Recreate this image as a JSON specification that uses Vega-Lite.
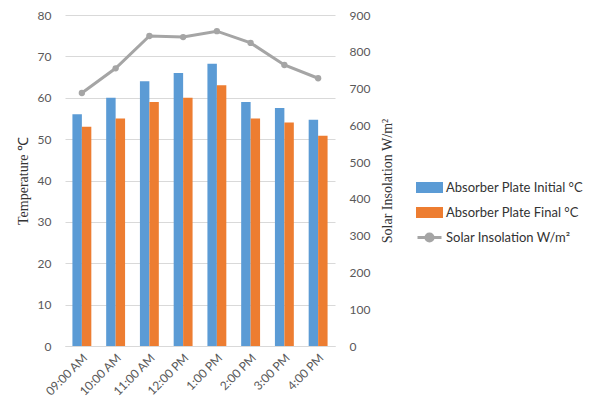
{
  "$schema": "https://vega.github.io/schema/vega-lite/v6.json",
  "width": 270,
  "height": 331,
  "autosize": {"type": "none"},
  "padding": {"left": 65, "top": 15, "right": 259, "bottom": 67},
  "background": "white",
  "config": {
    "view": {"stroke": null},
    "axis": {"labelFont": "Lato", "labelFontSize": 12, "labelColor": "#595959", "titleFont": "Liberation Serif", "titleFontSize": 14, "titleFontWeight": "normal", "titleColor": "#333333", "ticks": false, "domain": false}
  },
  "datasets": {
    "temps": [
      {"time": "09:00 AM", "series": "Absorber Plate Initial °C", "temp": 56},
      {"time": "09:00 AM", "series": "Absorber Plate Final °C", "temp": 53},
      {"time": "10:00 AM", "series": "Absorber Plate Initial °C", "temp": 60},
      {"time": "10:00 AM", "series": "Absorber Plate Final °C", "temp": 55},
      {"time": "11:00 AM", "series": "Absorber Plate Initial °C", "temp": 64},
      {"time": "11:00 AM", "series": "Absorber Plate Final °C", "temp": 59},
      {"time": "12:00 PM", "series": "Absorber Plate Initial °C", "temp": 66},
      {"time": "12:00 PM", "series": "Absorber Plate Final °C", "temp": 60},
      {"time": "1:00 PM", "series": "Absorber Plate Initial °C", "temp": 68.2},
      {"time": "1:00 PM", "series": "Absorber Plate Final °C", "temp": 63},
      {"time": "2:00 PM", "series": "Absorber Plate Initial °C", "temp": 59},
      {"time": "2:00 PM", "series": "Absorber Plate Final °C", "temp": 55},
      {"time": "3:00 PM", "series": "Absorber Plate Initial °C", "temp": 57.5},
      {"time": "3:00 PM", "series": "Absorber Plate Final °C", "temp": 54},
      {"time": "4:00 PM", "series": "Absorber Plate Initial °C", "temp": 54.7},
      {"time": "4:00 PM", "series": "Absorber Plate Final °C", "temp": 50.8}
    ],
    "solar": [
      {"time": "09:00 AM", "solar": 688},
      {"time": "10:00 AM", "solar": 755},
      {"time": "11:00 AM", "solar": 843},
      {"time": "12:00 PM", "solar": 840},
      {"time": "1:00 PM", "solar": 856},
      {"time": "2:00 PM", "solar": 824},
      {"time": "3:00 PM", "solar": 764},
      {"time": "4:00 PM", "solar": 728}
    ]
  },
  "encoding": {
    "x": {
      "field": "time",
      "type": "nominal",
      "scale": {"domain": ["09:00 AM", "10:00 AM", "11:00 AM", "12:00 PM", "1:00 PM", "2:00 PM", "3:00 PM", "4:00 PM"], "paddingInner": 0.44, "paddingOuter": 0.22},
      "axis": {"title": null, "labelAngle": -45, "labelPadding": 6, "domain": true, "domainColor": "#D9D9D9", "domainWidth": 1}
    }
  },
  "layer": [
    {
      "data": {"name": "temps"},
      "mark": {"type": "bar"},
      "encoding": {
        "xOffset": {"field": "series", "type": "nominal", "sort": ["Absorber Plate Initial °C", "Absorber Plate Final °C"], "scale": {"paddingInner": 0}},
        "y": {
          "field": "temp",
          "type": "quantitative",
          "scale": {"domain": [0, 80]},
          "axis": {"title": "Temperature ℃", "values": [0, 10, 20, 30, 40, 50, 60, 70, 80], "grid": true, "gridColor": "#D9D9D9", "labelPadding": 14, "titleX": -42, "titleY": 165.5, "titleAngle": -90, "titleBaseline": "middle"}
        },
        "color": {
          "field": "series",
          "type": "nominal",
          "scale": {"domain": ["Absorber Plate Initial °C", "Absorber Plate Final °C", "Solar Insolation W/m²"], "range": ["#5B9BD5", "#ED7D31", "#A5A5A5"]},
          "legend": {
            "title": null,
            "orient": "none",
            "legendX": 358,
            "legendY": 166,
            "labelFont": "Lato",
            "labelFontSize": 13,
            "labelColor": "#333333",
            "symbolSize": 64,
            "labelOffset": 10,
            "rowPadding": 4,
            "encode": {
              "symbols": {
                "update": {
                  "shape": {"signal": "datum.label === 'Solar Insolation W/m²' ? 'M-3,0H3M-0.9,0A0.9,0.9 0 1,0 0.9,0A0.9,0.9 0 1,0 -0.9,0' : 'M-3,-1H3V1H-3Z'"},
                  "fill": {"signal": "datum.label === 'Solar Insolation W/m²' ? '#A5A5A5' : (datum.label === 'Absorber Plate Initial °C' ? '#5B9BD5' : '#ED7D31')"},
                  "stroke": {"signal": "datum.label === 'Solar Insolation W/m²' ? '#A5A5A5' : 'transparent'"},
                  "strokeWidth": {"value": 3},
                  "opacity": {"value": 1}
                }
              }
            }
          }
        }
      }
    },
    {
      "data": {"name": "solar"},
      "mark": {"type": "line", "strokeWidth": 3, "point": {"filled": true, "size": 40}},
      "encoding": {
        "y": {
          "field": "solar",
          "type": "quantitative",
          "scale": {"domain": [0, 900]},
          "axis": {"orient": "right", "title": "Solar Insolation  W/m²", "values": [0, 100, 200, 300, 400, 500, 600, 700, 800, 900], "grid": false, "labelPadding": 14, "titleX": 52, "titleY": 165.5, "titleAngle": -90, "titleBaseline": "middle"}
        },
        "color": {"datum": "Solar Insolation W/m²"}
      }
    }
  ],
  "resolve": {"scale": {"y": "independent"}}
}
